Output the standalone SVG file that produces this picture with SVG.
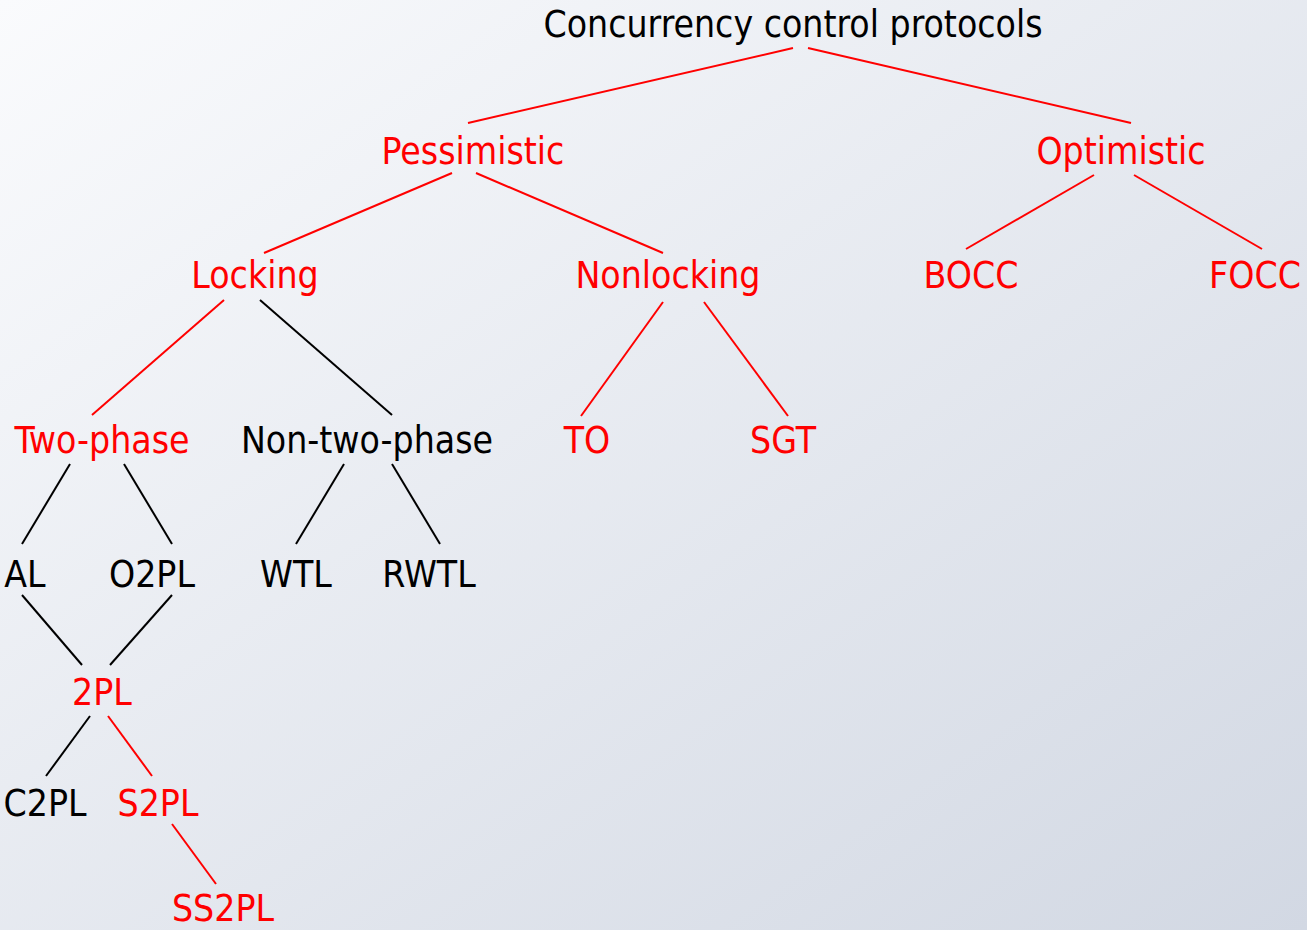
<svg xmlns="http://www.w3.org/2000/svg" width="1307" height="930" viewBox="0 0 1307 930">
  <defs>
    <linearGradient id="bg" x1="0" y1="0" x2="1" y2="1">
      <stop offset="0" stop-color="#fafbfd"/>
      <stop offset="1" stop-color="#d2d8e3"/>
    </linearGradient>
    <style>
      text { font-family: "DejaVu Sans Condensed", "DejaVu Sans", sans-serif; font-stretch: condensed; font-size: 37px; text-anchor: middle; }
      .r { fill: #ff0000; }
      .k { fill: #000000; }
      line { stroke-width: 2; }
      line.r { stroke: #ff0000; }
      line.k { stroke: #000000; }
    </style>
  </defs>
  <rect width="1307" height="930" fill="url(#bg)"/>

  <g id="connectors">
    <line class="r" x1="793" y1="48" x2="468" y2="123"/>
    <line class="r" x1="808" y1="48" x2="1131" y2="123"/>
    <line class="r" x1="452" y1="173" x2="264" y2="253"/>
    <line class="r" x1="476" y1="173" x2="663" y2="253"/>
    <line class="r" x1="1094" y1="175" x2="966" y2="249"/>
    <line class="r" x1="1134" y1="175" x2="1262" y2="249"/>
    <line class="r" x1="224" y1="300" x2="92" y2="415"/>
    <line class="k" x1="260" y1="300" x2="392" y2="415"/>
    <line class="r" x1="663" y1="302" x2="581" y2="416"/>
    <line class="r" x1="704" y1="302" x2="788" y2="416"/>
    <line class="k" x1="70" y1="464" x2="22" y2="544"/>
    <line class="k" x1="124" y1="464" x2="172" y2="544"/>
    <line class="k" x1="344" y1="464" x2="296" y2="544"/>
    <line class="k" x1="392" y1="464" x2="440" y2="544"/>
    <line class="k" x1="22" y1="595" x2="82" y2="665"/>
    <line class="k" x1="172" y1="595" x2="110" y2="665"/>
    <line class="k" x1="90" y1="716" x2="46" y2="776"/>
    <line class="r" x1="108" y1="716" x2="152" y2="776"/>
    <line class="r" x1="172" y1="824" x2="216" y2="884"/>
  </g>

  <g id="root"><text class="k" x="793" y="37">Concurrency control protocols</text></g>
  <g id="pessimistic"><text class="r" x="473" y="164">Pessimistic</text></g>
  <g id="optimistic"><text class="r" x="1121" y="164">Optimistic</text></g>
  <g id="locking"><text class="r" x="255" y="288">Locking</text></g>
  <g id="nonlocking"><text class="r" x="668" y="288">Nonlocking</text></g>
  <g id="bocc"><text class="r" x="971" y="288">BOCC</text></g>
  <g id="focc"><text class="r" x="1255" y="288">FOCC</text></g>
  <g id="two-phase"><text class="r" x="102" y="453">Two-phase</text></g>
  <g id="non-two-phase"><text class="k" x="367" y="453">Non-two-phase</text></g>
  <g id="to"><text class="r" x="587" y="453">TO</text></g>
  <g id="sgt"><text class="r" x="783" y="453">SGT</text></g>
  <g id="al"><text class="k" x="25" y="587">AL</text></g>
  <g id="o2pl"><text class="k" x="152" y="587">O2PL</text></g>
  <g id="wtl"><text class="k" x="296" y="587">WTL</text></g>
  <g id="rwtl"><text class="k" x="429" y="587">RWTL</text></g>
  <g id="2pl"><text class="r" x="102" y="705">2PL</text></g>
  <g id="c2pl"><text class="k" x="45" y="816">C2PL</text></g>
  <g id="s2pl"><text class="r" x="158" y="816">S2PL</text></g>
  <g id="ss2pl"><text class="r" x="223" y="921">SS2PL</text></g>
</svg>
